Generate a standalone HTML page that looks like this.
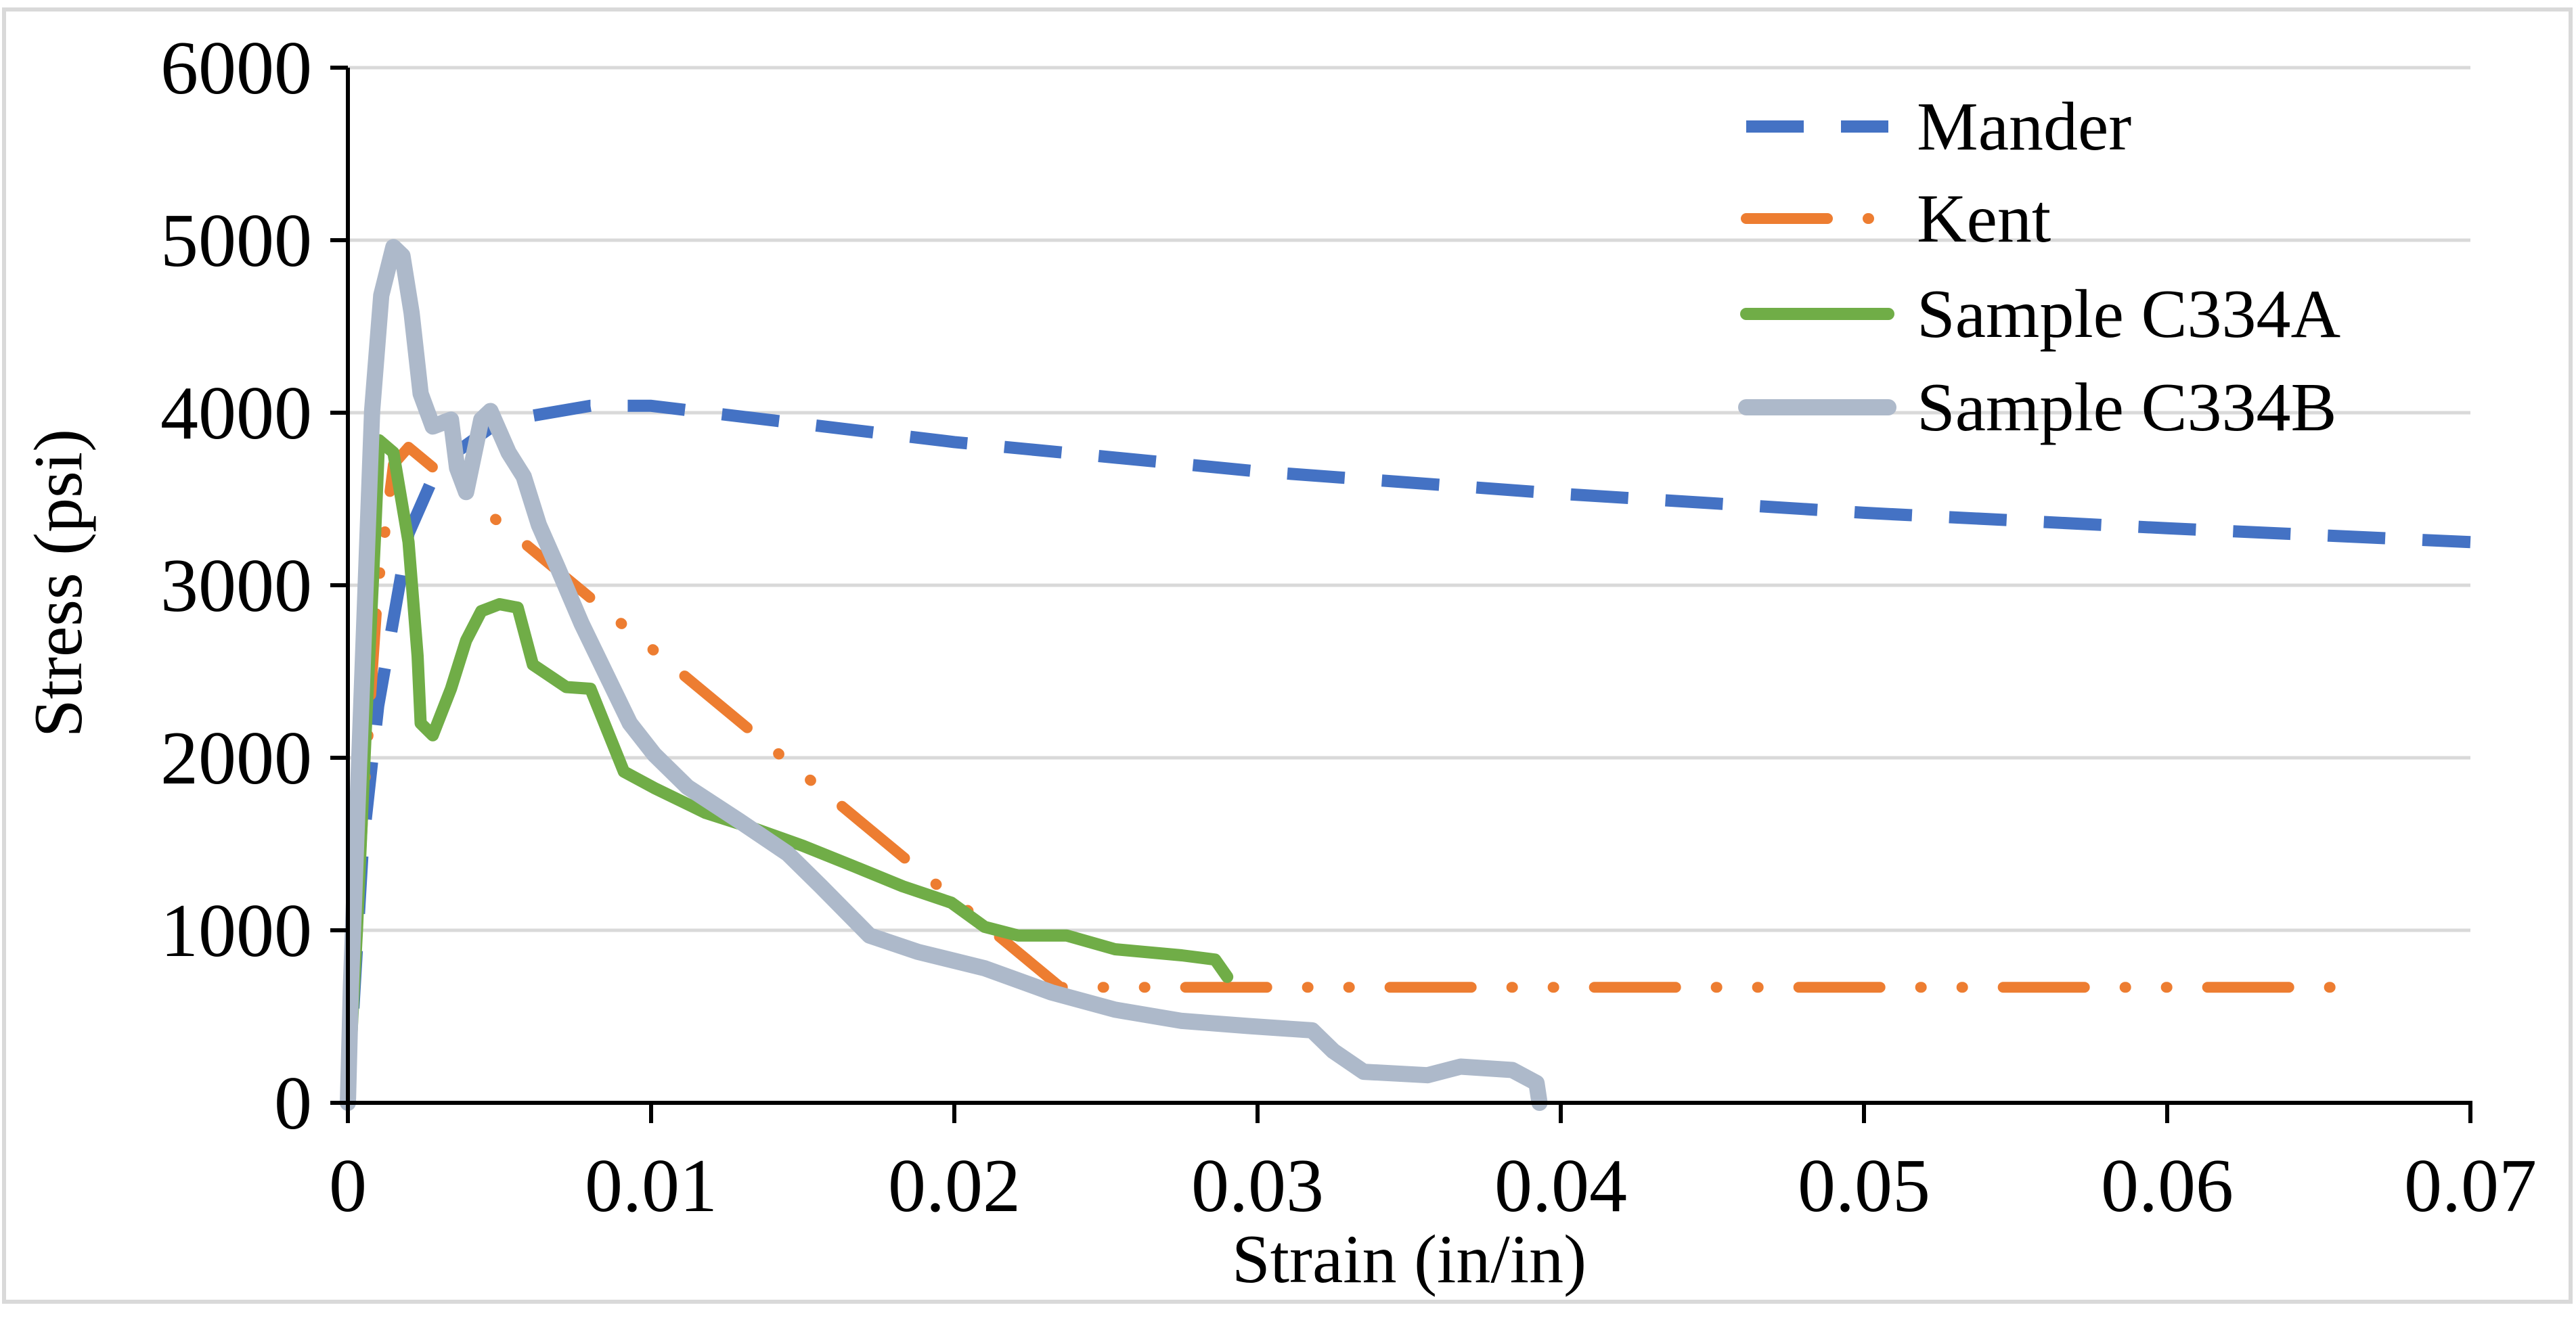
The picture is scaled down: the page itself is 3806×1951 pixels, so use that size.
<!DOCTYPE html>
<html><head><meta charset="utf-8"><style>
html,body{margin:0;padding:0;background:#fff;}
svg{display:block;font-family:"Liberation Serif",serif;}
</style></head><body>
<svg id="chart" width="3806" height="1951" viewBox="0 0 3806 1951" xmlns="http://www.w3.org/2000/svg">
<rect x="6" y="14" width="3792" height="1910" fill="#fff" stroke="#d9d9d9" stroke-width="6"/>
<g id="grid"></g>
<g id="series"></g>
<g id="axes"></g>
<text transform="translate(120,862) rotate(-90)" text-anchor="middle" font-size="102">Stress (psi)</text>
<text x="2082" y="1895" text-anchor="middle" font-size="102">Strain (in/in)</text>
<g id="legend"></g>
</svg>
<script>
const xTicks=[0,0.01,0.02,0.03,0.04,0.05,0.06,0.07];
const xTickLabels=["0","0.01","0.02","0.03","0.04","0.05","0.06","0.07"];
const yTicks=[0,1000,2000,3000,4000,5000,6000];
const yTickLabels=["0","1000","2000","3000","4000","5000","6000"];
const seriesNames=["Mander","Kent","Sample C334A","Sample C334B"];
const manderStrain=[0,0.0005,0.001,0.002,0.003,0.005,0.008,0.01,0.02,0.03,0.04,0.05,0.06,0.07];
const manderStress=[0,1500,2300,3300,3700,3950,4040,4040,3830,3660,3530,3420,3330,3250];
const kentStrain=[0,0.0005,0.001,0.0015,0.002,0.0235,0.0657];
const kentStress=[0,1700,3000,3700,3800,670,670];
const c334aStrain=[0,0.0003,0.0006,0.0009,0.00103,0.0015,0.002,0.0023,0.0024,0.0028,0.0034,0.0039,0.0044,0.005,0.0056,0.0061,0.0072,0.008,0.0091,0.0101,0.0118,0.0134,0.015,0.0167,0.0183,0.0199,0.021,0.0221,0.0237,0.0253,0.0275,0.0286,0.029];
const c334aStress=[0,1000,2200,3300,3840,3770,3250,2590,2200,2130,2400,2680,2850,2890,2870,2540,2410,2400,1920,1825,1680,1590,1490,1370,1255,1160,1020,970,970,890,855,830,730];
const c334bStrain=[0,0.0001,0.0005,0.0008,0.0011,0.0015,0.0018,0.0021,0.0024,0.0028,0.0034,0.0036,0.0039,0.0044,0.0047,0.0053,0.0058,0.0063,0.0069,0.0077,0.0085,0.0093,0.0101,0.0112,0.0129,0.0145,0.0156,0.0172,0.0188,0.021,0.0232,0.0253,0.0275,0.0297,0.0318,0.0325,0.0335,0.0356,0.0367,0.0384,0.0392,0.0393];
const c334bStress=[0,680,2590,4010,4680,4960,4910,4580,4110,3920,3960,3680,3540,3960,4010,3770,3630,3350,3110,2780,2490,2200,2020,1830,1635,1445,1255,970,875,780,640,540,475,445,420,300,180,160,210,190,115,0];

const NS="http://www.w3.org/2000/svg";
const X0=514,X1=3650,Y0=1630,Y1=100;
function sx(v){return X0+(v-0)/(0.07-0)*(X1-X0);}
function sy(v){return Y0-(v-0)/(6000-0)*(Y0-Y1);}
function mk(tag,attrs,parent){const e=document.createElementNS(NS,tag);for(const k in attrs)e.setAttribute(k,attrs[k]);parent.appendChild(e);return e;}
const grid=document.getElementById('grid'),axes=document.getElementById('axes'),ser=document.getElementById('series'),leg=document.getElementById('legend');
yTicks.forEach((t,i)=>{
  if(t>0){const g=mk('line',{x1:X0,x2:X1,y1:sy(t),y2:sy(t),stroke:'#d9d9d9','stroke-width':5},grid);
  
  }
  const tk=mk('line',{x1:X0-26,x2:X0,y1:sy(t),y2:sy(t),stroke:'#000','stroke-width':6},axes);
  
  
  const lb=mk('text',{x:461,y:sy(t)+38,'text-anchor':'end','font-size':112},axes);
  lb.textContent=yTickLabels[i];
  
  
});
xTicks.forEach((t,i)=>{
  const tk=mk('line',{x1:sx(t),x2:sx(t),y1:Y0,y2:Y0+30,stroke:'#000','stroke-width':6},axes);
  
  
  const lb=mk('text',{x:sx(t),y:1790,'text-anchor':'middle','font-size':112},axes);
  lb.textContent=xTickLabels[i];
  
  
});
const ya=mk('line',{x1:X0,x2:X0,y1:Y1,y2:Y0+3,stroke:'#000','stroke-width':6},axes);


const xa=mk('line',{x1:X0-3,x2:X1+3,y1:Y0,y2:Y0,stroke:'#000','stroke-width':6},axes);



const styles=[
 {c:'#4472c4',w:18,d:'85 55',cap:'butt'},
 {c:'#ed7d31',w:16,d:'120 60 1 60 1 60',cap:'round'},
 {c:'#70ad47',w:18,d:'',cap:'round'},
 {c:'#adb9ca',w:24,d:'',cap:'round'}];
const data=[[manderStrain,manderStress],[kentStrain,kentStress],[c334aStrain,c334aStress],[c334bStrain,c334bStress]];
const names=['mander-line','kent-line','sample-c334a-line','sample-c334b-line'];
data.forEach((s,k)=>{
  const pts=s[0].map((x,i)=>sx(x).toFixed(1)+','+sy(s[1][i]).toFixed(1)).join(' ');
  const st=styles[k];
  const p=mk('polyline',{points:pts,fill:'none',stroke:st.c,'stroke-width':st.w,'stroke-linejoin':'round','stroke-linecap':st.cap},ser);
  if(st.d)p.setAttribute('stroke-dasharray',st.d);
  
  
});
const ly=[187,323,464,602];
seriesNames.forEach((n,k)=>{
  const st=styles[k];
  const g=mk('g',{},leg);
  
  
  const l=mk('line',{x1:2580,x2:2790,y1:ly[k],y2:ly[k],stroke:st.c,'stroke-width':st.w,'stroke-linecap':st.cap},g);
  if(st.d)l.setAttribute('stroke-dasharray',st.d);
  const t=mk('text',{x:2832,y:ly[k]+34,'font-size':102},g);
  t.textContent=n;
});
</script>
</body></html>
